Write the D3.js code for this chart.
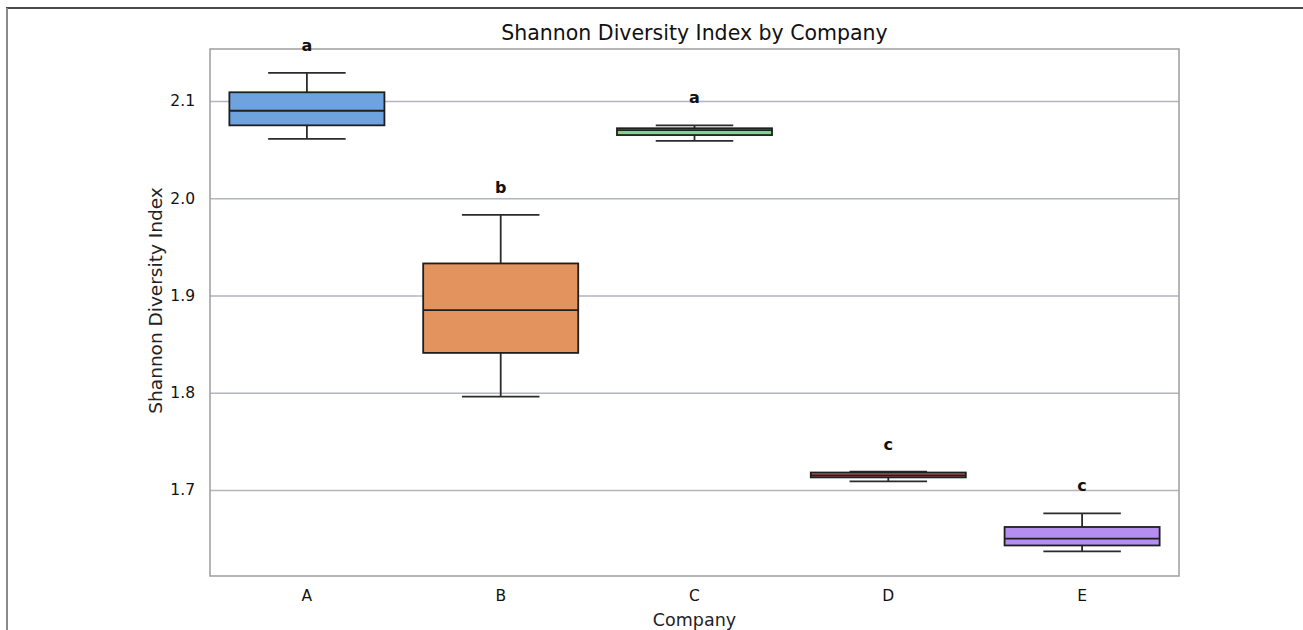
<!DOCTYPE html>
<html>
<head>
<meta charset="utf-8">
<script src="https://cdn.jsdelivr.net/npm/d3@7"></script>
<style>
  html, body { margin: 0; padding: 0; background: #ffffff; }
  svg { display: block; font-family: "DejaVu Sans", sans-serif; }
</style>
</head>
<body>
<svg id="chart" width="1303" height="630"></svg>
<script>
// Box-plot summaries of the Shannon diversity index per company
const companies   = ["A", "B", "C", "D", "E"];
const whiskerLow  = [2.061, 1.796, 2.059, 1.709, 1.637];
const q1          = [2.075, 1.841, 2.065, 1.713, 1.643];
const median      = [2.090, 1.885, 2.070, 1.715, 1.650];
const q3          = [2.109, 1.933, 2.072, 1.718, 1.662];
const whiskerHigh = [2.129, 1.983, 2.075, 1.719, 1.676];
const groupLetters = ["a", "b", "a", "c", "c"];
const boxColors   = ["#6fa3e0", "#e3935d", "#7dd68b", "#c6625c", "#b48ff0"];
const yTicks      = [1.7, 1.8, 1.9, 2.0, 2.1];

const svg = d3.select("#chart");
const plot = { left: 210, right: 1179, top: 49, bottom: 576 };

// page frame lines
svg.append("line").attr("x1", 6).attr("x2", 1303).attr("y1", 8).attr("y2", 8)
  .attr("stroke", "#4a4a4a").attr("stroke-width", 2);
svg.append("line").attr("x1", 7).attr("x2", 7).attr("y1", 8).attr("y2", 630)
  .attr("stroke", "#8a8a8a").attr("stroke-width", 2);

const x = d3.scaleBand().domain(companies)
  .range([plot.left, plot.right]).paddingInner(0.2).paddingOuter(0.1);
const y = d3.scaleLinear().domain([1.6116, 2.1535]).range([plot.bottom, plot.top]);

// horizontal grid
svg.append("g")
  .attr("transform", `translate(${plot.left},0)`)
  .call(d3.axisLeft(y).tickValues(yTicks).tickSize(-(plot.right - plot.left)).tickFormat(""))
  .call(g => g.select(".domain").remove())
  .call(g => g.selectAll("line").attr("stroke", "#b3b5be").attr("stroke-width", 1.6));

// plot frame
svg.append("rect")
  .attr("x", plot.left).attr("y", plot.top)
  .attr("width", plot.right - plot.left).attr("height", plot.bottom - plot.top)
  .attr("fill", "none").attr("stroke", "#a3a3a3").attr("stroke-width", 1.6);

// y tick labels
svg.append("g")
  .attr("transform", `translate(${plot.left},0)`)
  .call(d3.axisLeft(y).tickValues(yTicks).tickSize(0).tickPadding(15).tickFormat(d3.format(".1f")))
  .call(g => g.select(".domain").remove())
  .call(g => g.selectAll("text").attr("font-size", 15.5).attr("fill", "#111")
    .attr("font-family", "DejaVu Sans, sans-serif"));

// x tick labels
svg.append("g")
  .attr("transform", `translate(0,${plot.bottom})`)
  .call(d3.axisBottom(x).tickSize(0).tickPadding(14))
  .call(g => g.select(".domain").remove())
  .call(g => g.selectAll("text").attr("font-size", 15.5).attr("fill", "#111")
    .attr("font-family", "DejaVu Sans, sans-serif"));

// boxes
const data = companies.map((c, i) => ({
  c, lo: whiskerLow[i], q1: q1[i], med: median[i], q3: q3[i], hi: whiskerHigh[i],
  letter: groupLetters[i], color: boxColors[i]
}));

const bw = x.bandwidth();
const g = svg.append("g").selectAll("g").data(data).join("g")
  .attr("transform", d => `translate(${x(d.c)},0)`);

g.append("line").attr("x1", bw / 2).attr("x2", bw / 2)
  .attr("y1", d => y(d.hi)).attr("y2", d => y(d.q3))
  .attr("stroke", "#2b2b2b").attr("stroke-width", 1.8);
g.append("line").attr("x1", bw / 2).attr("x2", bw / 2)
  .attr("y1", d => y(d.q1)).attr("y2", d => y(d.lo))
  .attr("stroke", "#2b2b2b").attr("stroke-width", 1.8);
g.append("line").attr("x1", bw / 4).attr("x2", bw * 3 / 4)
  .attr("y1", d => y(d.hi)).attr("y2", d => y(d.hi))
  .attr("stroke", "#2b2b2b").attr("stroke-width", 1.8);
g.append("line").attr("x1", bw / 4).attr("x2", bw * 3 / 4)
  .attr("y1", d => y(d.lo)).attr("y2", d => y(d.lo))
  .attr("stroke", "#2b2b2b").attr("stroke-width", 1.8);

g.append("rect").attr("x", 0).attr("width", bw)
  .attr("y", d => y(d.q3)).attr("height", d => y(d.q1) - y(d.q3))
  .attr("fill", d => d.color).attr("stroke", "#1f1f1f").attr("stroke-width", 1.8);
g.append("line").attr("x1", 0).attr("x2", bw)
  .attr("y1", d => y(d.med)).attr("y2", d => y(d.med))
  .attr("stroke", "#1f1f1f").attr("stroke-width", 1.8);

// significance letters
g.append("text")
  .attr("x", bw / 2).attr("y", d => y(d.hi) - 22)
  .attr("text-anchor", "middle").attr("font-size", 16).attr("font-weight", "bold")
  .attr("fill", "#111").text(d => d.letter);

// titles
svg.append("text")
  .attr("x", (plot.left + plot.right) / 2).attr("y", 40)
  .attr("text-anchor", "middle").attr("font-size", 20.5).attr("fill", "#111")
  .text("Shannon Diversity Index by Company");
svg.append("text")
  .attr("x", (plot.left + plot.right) / 2).attr("y", 626)
  .attr("text-anchor", "middle").attr("font-size", 17.5).attr("fill", "#222")
  .text("Company");
svg.append("text")
  .attr("transform", `translate(162,${(plot.top + plot.bottom) / 2 - 12}) rotate(-90)`)
  .attr("text-anchor", "middle").attr("font-size", 18.5).attr("fill", "#222")
  .text("Shannon Diversity Index");
</script>
</body>
</html>
